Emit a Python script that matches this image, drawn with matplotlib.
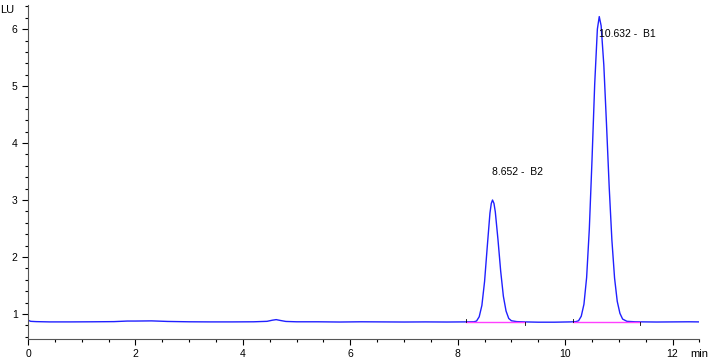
import matplotlib
matplotlib.use("Agg")
import matplotlib.pyplot as plt
from matplotlib.ticker import MultipleLocator

plt.rcParams['font.family'] = ['Liberation Sans', 'DejaVu Sans']

# retention time (min) and signal (LU)
time = [0.0, 0.05, 0.15, 0.4, 0.8, 1.2, 1.6, 1.85, 2.0, 2.3, 2.6, 3.0, 3.4, 3.8, 4.2,
        4.45, 4.55, 4.62, 4.7, 4.8, 5.0, 5.4, 5.8, 6.2, 6.6, 7.0, 7.4, 7.8, 8.1, 8.3,
        8.35, 8.4, 8.45, 8.5, 8.55, 8.6, 8.625, 8.648, 8.675, 8.7, 8.75, 8.8, 8.85,
        8.9, 8.95, 9.0, 9.1, 9.25, 9.5, 9.8, 10.1, 10.2,
        10.25, 10.3, 10.35, 10.4, 10.45, 10.5, 10.55, 10.6, 10.635, 10.67, 10.72,
        10.77, 10.82, 10.87, 10.92, 10.97, 11.02, 11.07, 11.15,
        11.3, 11.5, 11.7, 12.0, 12.3, 12.5]
signal = [0.89, 0.87, 0.865, 0.86, 0.86, 0.862, 0.865, 0.875, 0.875, 0.878, 0.868, 0.862,
          0.86, 0.86, 0.862, 0.87, 0.89, 0.9, 0.885, 0.868, 0.862, 0.862, 0.858, 0.862,
          0.86, 0.858, 0.86, 0.858, 0.86, 0.862,
          0.875, 0.95, 1.15, 1.57, 2.18, 2.77, 2.94, 3.0, 2.94, 2.79, 2.30, 1.75, 1.31,
          1.05, 0.92, 0.88, 0.865, 0.86, 0.855, 0.855, 0.86, 0.865,
          0.88, 0.96, 1.17, 1.64, 2.49, 3.70, 5.03, 6.00, 6.22, 6.06, 5.37,
          4.33, 3.23, 2.30, 1.63, 1.22, 1.01, 0.91, 0.87,
          0.862, 0.86, 0.858, 0.86, 0.862, 0.86]

# integration baselines (start, end) and labels
base_start = [8.15, 10.15]
base_end = [9.25, 11.4]
base_level = [0.855, 0.855]
peak_rt = [8.652, 10.632]
peak_name = ['B2', 'B1']
label_y = [3.5, 5.92]

fig = plt.figure(figsize=(7.09, 3.64), dpi=100)
ax = fig.add_axes([0.0395, 0.0687, 0.947, 0.917])

ax.plot(time, signal, color='#2020ff', lw=1.0)
for s, e, b in zip(base_start, base_end, base_level):
    ax.plot([s, e], [b, b], color='#ff40ff', lw=1.0)
    ax.plot([s, s], [b, b + 0.05], color='black', lw=0.6)
    ax.plot([e, e], [b - 0.05, b], color='black', lw=0.6)

for rt, name, ly in zip(peak_rt, peak_name, label_y):
    ax.text(rt - 0.01, ly, f'{rt:.3f} -  {name}', fontsize=7.5, ha='left', va='center')

ax.set_xlim(0, 12.5)
ax.set_ylim(0.56, 6.42)
ax.xaxis.set_major_locator(MultipleLocator(2))
ax.xaxis.set_minor_locator(MultipleLocator(0.5))
ax.yaxis.set_major_locator(MultipleLocator(1))
ax.yaxis.set_minor_locator(MultipleLocator(0.2))
ax.tick_params(which='major', length=4, width=0.8, labelsize=7.5)
ax.tick_params(which='minor', length=2, width=0.8)
for sp in ['top', 'right']:
    ax.spines[sp].set_visible(False)
ax.spines['left'].set_color('#555555')
ax.spines['bottom'].set_color('#555555')

fig.text(0.0, 0.972, 'LU', fontsize=8, va='center', ha='left')
fig.text(0.973, 0.027, 'min', fontsize=8, va='center', ha='left')

fig.savefig('out.png', dpi=100)
